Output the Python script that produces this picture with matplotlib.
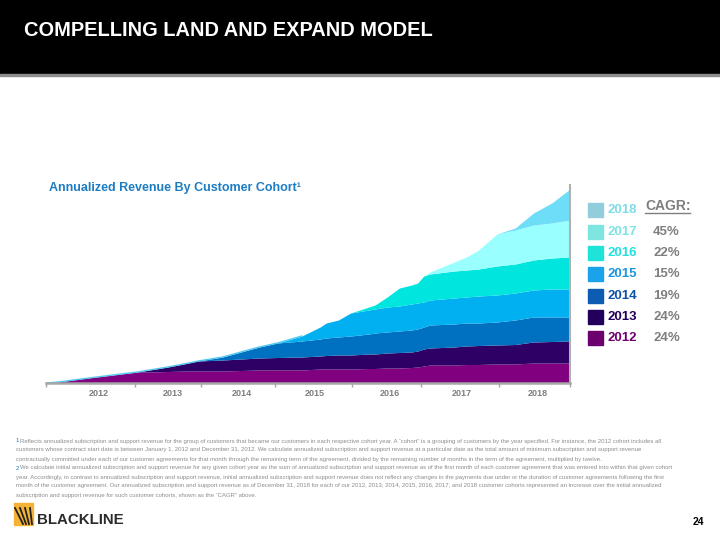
import numpy as np
import matplotlib.pyplot as plt
from matplotlib.patches import Rectangle
from matplotlib.lines import Line2D

plt.rcParams['font.family'] = ['Liberation Sans', 'DejaVu Sans']

# months since start of the chart
months = [0, 2, 7, 11, 15, 17, 20, 23, 25, 29, 32, 35, 38, 42, 45, 46, 48, 50,
          53, 54, 56, 58, 60, 61, 62, 63, 67, 69, 71, 74, 77, 80, 83, 86]

# stacked tops of each cohort (arbitrary revenue units)
top_2012 = [0, 1, 5, 8, 11, 11, 11.5, 12, 12, 12, 12.5, 13, 13, 13, 14, 14, 14, 14,
            14.5, 14.5, 15, 15, 15.5, 16, 17, 18, 18, 18.5, 18.5, 19, 19, 20, 20, 20]
top_2013 = [0, 1, 5, 8, 11, 13, 16, 19.5, 22, 23, 24, 25, 25.5, 26, 27, 27.5, 28, 28,
            29, 29, 30, 30.5, 31, 32, 34, 35, 36, 37, 37.5, 38, 38.5, 41, 41.5, 42]
top_2014 = [0, 1, 5, 8, 11, 13, 16, 19.5, 22, 26, 31, 36, 40, 42, 44, 45, 46, 47,
            49, 50, 51, 52, 53, 54, 56, 58, 59, 60, 60, 61, 63, 66, 66, 66]
top_2015 = [0, 1, 5, 8, 11, 13, 16, 19.5, 22, 26, 31, 36, 40, 47, 56, 60, 63, 70,
            73, 74, 76, 77, 79, 80, 81, 83, 85, 86, 87, 88, 90, 93, 94, 94]
top_2016 = [0, 1, 5, 8, 11, 13, 16, 19.5, 22, 26, 31, 36, 40, 47, 56, 60, 63, 70,
            76, 78, 86, 95, 98, 100, 107, 109, 112, 113, 114, 117, 119, 123, 125, 126]
top_2017 = [0, 1, 5, 8, 11, 13, 16, 19.5, 22, 26, 31, 36, 40, 47, 56, 60, 63, 70,
            76, 78, 86, 95, 98, 100, 107, 111, 121, 126, 133, 149, 153, 158, 160, 163]
top_2018 = [0, 1, 5, 8, 11, 13, 16, 19.5, 22, 26, 31, 36, 40, 47, 56, 60, 63, 70,
            76, 78, 86, 95, 98, 100, 107, 111, 121, 126, 133, 149, 155, 170, 180, 194]

cohorts = ['2012', '2013', '2014', '2015', '2016', '2017', '2018']
cagr = ['24%', '24%', '19%', '15%', '22%', '45%', '']
area_colors = ['#800080', '#2E0066', '#0070C0', '#00B0F0', '#00E6DE', '#99FFFF', '#6EDDF7']
swatch_colors = ['#6B006E', '#22005C', '#0B5CB2', '#1AA3EA', '#1EE3D8', '#7FE5E0', '#92CDDC']
label_colors = ['#700070', '#23005A', '#0F52AA', '#1B95E0', '#20E0E0', '#7FE3E3', '#7FDCE8']

year_ticks = [0, 14.6, 25.4, 37.6, 50.3, 61.6, 74.3, 86]
year_label_pos = [8.7, 20.8, 32.2, 44.1, 56.5, 68.3, 80.7]

W, H = 720, 540
fig = plt.figure(figsize=(7.2, 5.4), dpi=100)


def fx(x):
    return x / W


def fy(y):
    return 1 - y / H


# header bar
fig.patches.append(Rectangle((0, fy(74)), 1, 74 / H, transform=fig.transFigure,
                             color='black', zorder=0))
fig.patches.append(Rectangle((0, fy(75.5)), 1, 1.5 / H, transform=fig.transFigure,
                             color='#8C8C8C', zorder=0))
fig.text(fx(24), fy(31), 'COMPELLING LAND AND EXPAND MODEL', color='white',
         fontsize=14.4, fontweight='bold', va='center', ha='left')

# chart
ax = fig.add_axes([fx(46), fy(383), 524 / W, 200 / H])
tops = [np.zeros(len(months)), top_2012, top_2013, top_2014, top_2015,
        top_2016, top_2017, top_2018]
for i in range(len(cohorts)):
    ax.fill_between(months, tops[i], tops[i + 1], color=area_colors[i], lw=0)
ax.plot(months[:14], top_2018[:14], color='#55C8F0', lw=1.0)

ax.set_xlim(0, 86)
ax.set_ylim(0, 200)
for s in ['top', 'left']:
    ax.spines[s].set_visible(False)
ax.spines['bottom'].set_color('#A6A6A6')
ax.spines['bottom'].set_linewidth(1.8)
ax.spines['right'].set_color('#B0B0B0')
ax.spines['right'].set_linewidth(1.5)
ax.spines['right'].set_bounds(0, 198)
ax.set_yticks([])
ax.set_xticks(year_ticks)
ax.set_xticklabels([])
ax.tick_params(axis='x', which='major', length=3, width=1, color='#A6A6A6')
ax.set_xticks(year_label_pos, minor=True)
ax.set_xticklabels(cohorts, minor=True)
ax.tick_params(axis='x', which='minor', length=0, pad=4, labelsize=6.5,
               labelcolor='#7F7F7F')
for t in ax.get_xticklabels(minor=True):
    t.set_fontweight('bold')
ax.patch.set_alpha(0)

fig.text(fx(49), fy(188), 'Annualized Revenue By Customer Cohort\u00b9',
         color='#1C7CC4', fontsize=9, fontweight='bold', va='center')

# legend with CAGR column
leg_y = [338, 317, 296, 274, 253, 232, 210]
for i in range(len(cohorts)):
    y = leg_y[i]
    fig.patches.append(Rectangle((fx(588), fy(y + 7)), 15 / W, 14 / H,
                                 transform=fig.transFigure, color=swatch_colors[i]))
    fig.text(fx(608), fy(y), cohorts[i], color=label_colors[i], fontsize=9.5,
             fontweight='bold', va='center')
    if cagr[i]:
        fig.text(fx(653), fy(y), cagr[i], color='#7F7F7F', fontsize=9.5,
                 fontweight='bold', va='center')
fig.text(fx(645), fy(206), 'CAGR:', color='#7F7F7F', fontsize=10,
         fontweight='bold', va='center')
fig.lines.append(Line2D([fx(645), fx(690)], [fy(213), fy(213)],
                        transform=fig.transFigure, color='#7F7F7F', lw=1))

# footnotes
notes = [
    ('1', 'Reflects annualized subscription and support revenue for the group of customers that became our customers in each respective cohort year. A \u201ccohort\u201d is a grouping of customers by the year specified. For instance, the 2012 cohort includes all'),
    ('', 'customers whose contract start date is between January 1, 2012 and December 31, 2012. We calculate annualized subscription and support revenue at a particular date as the total amount of minimum subscription and support revenue'),
    ('', 'contractually committed under each of our customer agreements for that month through the remaining term of the agreement, divided by the remaining number of months in the term of the agreement, multiplied by twelve.'),
    ('2', 'We calculate initial annualized subscription and support revenue for any given cohort year as the sum of annualized subscription and support revenue as of the first month of each customer agreement that was entered into within that given cohort'),
    ('', 'year. Accordingly, in contrast to annualized subscription and support revenue, initial annualized subscription and support revenue does not reflect any changes in the payments due under or the duration of customer agreements following the first'),
    ('', 'month of the customer agreement. Our annualized subscription and support revenue as of December 31, 2018 for each of our 2012, 2013, 2014, 2015, 2016, 2017, and 2018 customer cohorts represented an increase over the initial annualized'),
    ('', 'subscription and support revenue for such customer cohorts, shown as the \u201cCAGR\u201d above.'),
]
note_y = [441, 450, 459, 468, 477, 486, 495]
for (num, line), y in zip(notes, note_y):
    x0 = 16
    if num:
        fig.text(fx(x0), fy(y), num, color='#1C7CC4', fontsize=4.3, va='center')
        x0 = 20.5
    fig.text(fx(x0), fy(y), line, color='#8C8C8C', fontsize=4.3, va='center')

# logo
fig.patches.append(Rectangle((fx(14), fy(525)), 19 / W, 22 / H,
                             transform=fig.transFigure, color='#F5B335'))
for k in range(4):
    fig.lines.append(Line2D([fx(15 + k * 5), fx(23 + k * 3)], [fy(508), fy(524)],
                            transform=fig.transFigure, color='#222222', lw=1.3))
fig.text(fx(37), fy(519.5), 'BLACKLINE', color='#2B2B2B', fontsize=10.8,
         fontweight='bold', va='center')
fig.text(fx(704), fy(522), '24', color='black', fontsize=7.5, fontweight='bold',
         va='center', ha='right')

fig.savefig('out.png', dpi=100)
